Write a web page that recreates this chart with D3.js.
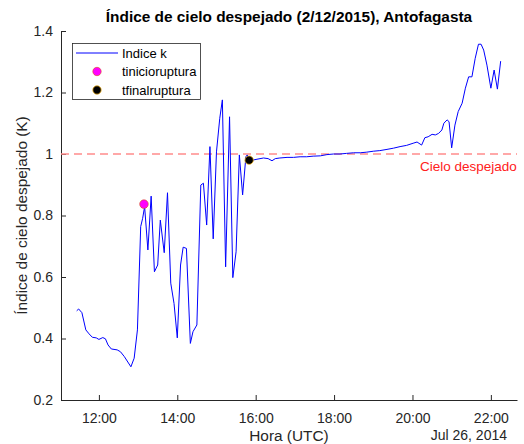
<!DOCTYPE html>
<html>
<head>
<meta charset="utf-8">
<script src="https://cdn.jsdelivr.net/npm/d3@7"></script>
<style>
body { margin: 0; background: #fff; }
svg { font-family: 'Liberation Sans', Arial, sans-serif; }
</style>
</head>
<body>
<svg id="mainsvg" width="524" height="444"></svg>
<script>
// hora (UTC) y valor del indice k
var horas = ['11:26','11:29','11:34','11:40','11:45','11:50','11:56','12:00','12:06','12:10',
	'12:14','12:19','12:28','12:33','12:39','12:49','12:54','12:59','13:04','13:07',
	'13:10','13:15','13:20','13:25','13:30','13:34','13:40','13:45','13:50','13:55',
	'14:00','14:05','14:09','14:14','14:20','14:24','14:30','14:36','14:40','14:45',
	'14:50','14:55','15:00','15:05','15:09','15:14','15:20','15:25','15:30','15:35',
	'15:40','15:45','15:47','15:51','16:02','16:12','16:19','16:25','16:30','16:37',
	'16:48','16:58','17:08','17:18','17:28','17:39','17:49','17:59','18:09','18:19',
	'18:30','18:40','18:50','19:00','19:10','19:21','19:31','19:41','19:51','20:01',
	'20:07','20:14','20:19','20:24','20:30','20:35','20:40','20:45','20:48','20:53',
	'20:56','21:00','21:05','21:10','21:16','21:21','21:26','21:31','21:36','21:41',
	'21:45','21:49','21:54','22:00','22:05','22:10','22:15'];
var indiceK = [0.490,0.496,0.484,0.428,0.415,0.404,0.402,0.397,0.403,0.399,
	0.379,0.366,0.363,0.357,0.341,0.308,0.336,0.428,0.764,0.791,
	0.829,0.688,0.863,0.617,0.639,0.785,0.679,0.874,0.580,0.514,
	0.402,0.639,0.697,0.693,0.384,0.422,0.444,0.899,0.905,0.769,
	1.024,0.724,1.007,1.116,1.176,0.633,1.121,0.598,0.682,0.997,
	0.867,0.991,0.997,0.978,0.983,0.987,0.985,0.978,0.985,0.987,
	0.989,0.989,0.991,0.991,0.993,0.994,0.998,1.000,1.000,1.002,
	1.004,1.004,1.006,1.009,1.011,1.015,1.019,1.024,1.028,1.035,
	1.039,1.029,1.053,1.056,1.064,1.062,1.067,1.078,1.100,1.111,
	1.105,1.020,1.094,1.138,1.165,1.214,1.251,1.251,1.311,1.357,
	1.357,1.338,1.289,1.214,1.273,1.211,1.302];
var tInicio = {hora: '13:09', k: 0.837};
var tFinal = {hora: '15:50', k: 0.980};
var cieloDespejado = 1;
var yTicks = [0.2,0.4,0.6,0.8,1,1.2,1.4];
var xTicks = ['12:00','14:00','16:00','18:00','20:00','22:00'];
var xDominio = ['11:02','22:40'];

var fecha = '2014-07-26 ';
var parse = d3.timeParse('%Y-%m-%d %H:%M');
function t(h) { return parse(fecha + h); }

var margin = {left: 61, right: 7, top: 31, bottom: 44};
var W = 524, H = 444;
var svg = d3.select('#mainsvg');
var axisColor = '#262626';

var x = d3.scaleTime()
	.domain(xDominio.map(t))
	.range([margin.left, W - margin.right]);
var y = d3.scaleLinear()
	.domain([0.2, 1.4])
	.range([H - margin.bottom, margin.top]);

// ejes (ticks hacia dentro, estilo matlab)
var xAxis = svg.append('g')
	.attr('transform', 'translate(0,' + (H - margin.bottom) + ')')
	.call(d3.axisBottom(x).tickValues(xTicks.map(t)).tickFormat(d3.timeFormat('%H:%M')).tickSizeInner(-5).tickSizeOuter(0).tickPadding(13));
var yAxis = svg.append('g')
	.attr('transform', 'translate(' + margin.left + ',0)')
	.call(d3.axisLeft(y).tickValues(yTicks).tickFormat(d3.format('~g')).tickSizeInner(-5).tickSizeOuter(0).tickPadding(8));
[xAxis, yAxis].forEach(function(a) {
	a.selectAll('path').attr('stroke', axisColor).attr('stroke-width', 1);
	a.selectAll('line').attr('stroke', axisColor).attr('stroke-width', 1);
	a.selectAll('text').attr('fill', axisColor).style('font-size', '14px');
});
yAxis.select('.domain').attr('d', 'M0.5,' + margin.top + 'V' + (H - margin.bottom));

// linea cielo despejado
svg.append('line')
	.attr('x1', margin.left).attr('x2', W - margin.right)
	.attr('y1', y(cieloDespejado)).attr('y2', y(cieloDespejado))
	.attr('stroke', '#ff8c8c')
	.attr('stroke-width', 1.5)
	.attr('stroke-dasharray', '8,5');
svg.append('text')
	.attr('x', 420).attr('y', 171)
	.attr('fill', '#ff2020')
	.style('font-size', '13.5px')
	.text('Cielo despejado');

// serie
var datos = horas.map(function(h, i) { return {t: t(h), k: indiceK[i]}; });
var line = d3.line()
	.x(function(d) { return x(d.t); })
	.y(function(d) { return y(d.k); });
svg.append('path')
	.datum(datos)
	.attr('d', line)
	.attr('fill', 'none')
	.attr('stroke', '#0000ff')
	.attr('stroke-width', 1)
	.attr('stroke-linejoin', 'round');

// marcadores
svg.append('circle')
	.attr('cx', x(t(tInicio.hora))).attr('cy', y(tInicio.k)).attr('r', 4.3)
	.attr('fill', '#ff00ff').attr('stroke', '#D95319').attr('stroke-width', 0.6);
svg.append('circle')
	.attr('cx', x(t(tFinal.hora))).attr('cy', y(tFinal.k)).attr('r', 4.2)
	.attr('fill', '#000').attr('stroke', '#EDB120').attr('stroke-width', 0.8);

// titulo y etiquetas
svg.append('text')
	.attr('x', (margin.left + W - margin.right) / 2).attr('y', 22)
	.attr('text-anchor', 'middle')
	.style('font-size', '15.4px').style('font-weight', 'bold')
	.attr('fill', '#000')
	.text('Índice de cielo despejado (2/12/2015), Antofagasta');
svg.append('text')
	.attr('x', (margin.left + W - margin.right) / 2).attr('y', 441)
	.attr('text-anchor', 'middle')
	.style('font-size', '15.4px')
	.attr('fill', axisColor)
	.text('Hora (UTC)');
svg.append('text')
	.attr('x', 507).attr('y', 440)
	.attr('text-anchor', 'end')
	.style('font-size', '14px')
	.attr('fill', axisColor)
	.text('Jul 26, 2014');
svg.append('text')
	.attr('transform', 'translate(27,' + ((margin.top + H - margin.bottom) / 2) + ') rotate(-90)')
	.attr('text-anchor', 'middle')
	.style('font-size', '15.4px')
	.attr('fill', axisColor)
	.text('Índice de cielo despejado (K)');

// leyenda
var leg = svg.append('g').attr('transform', 'translate(72,43)');
leg.append('rect')
	.attr('x', 0.5).attr('y', 0.5).attr('width', 128).attr('height', 56)
	.attr('fill', '#fff').attr('stroke', axisColor).attr('stroke-width', 0.8);
var items = ['Indice k', 'tinicioruptura', 'tfinalruptura'];
items.forEach(function(nombre, i) {
	var yy = 10 + i * 18.5;
	if (i == 0) {
		leg.append('line').attr('x1', 4).attr('x2', 46).attr('y1', yy).attr('y2', yy)
			.attr('stroke', '#0000ff').attr('stroke-width', 1);
	} else {
		leg.append('circle').attr('cx', 25).attr('cy', yy).attr('r', 4.2)
			.attr('fill', i == 1 ? '#ff00ff' : '#000')
			.attr('stroke', i == 1 ? '#D95319' : '#EDB120')
			.attr('stroke-width', i == 1 ? 0.6 : 0.8);
	}
	leg.append('text').attr('x', 50).attr('y', yy + 4.5)
		.style('font-size', '13px').attr('fill', '#000')
		.text(nombre);
});
</script>
</body>
</html>
